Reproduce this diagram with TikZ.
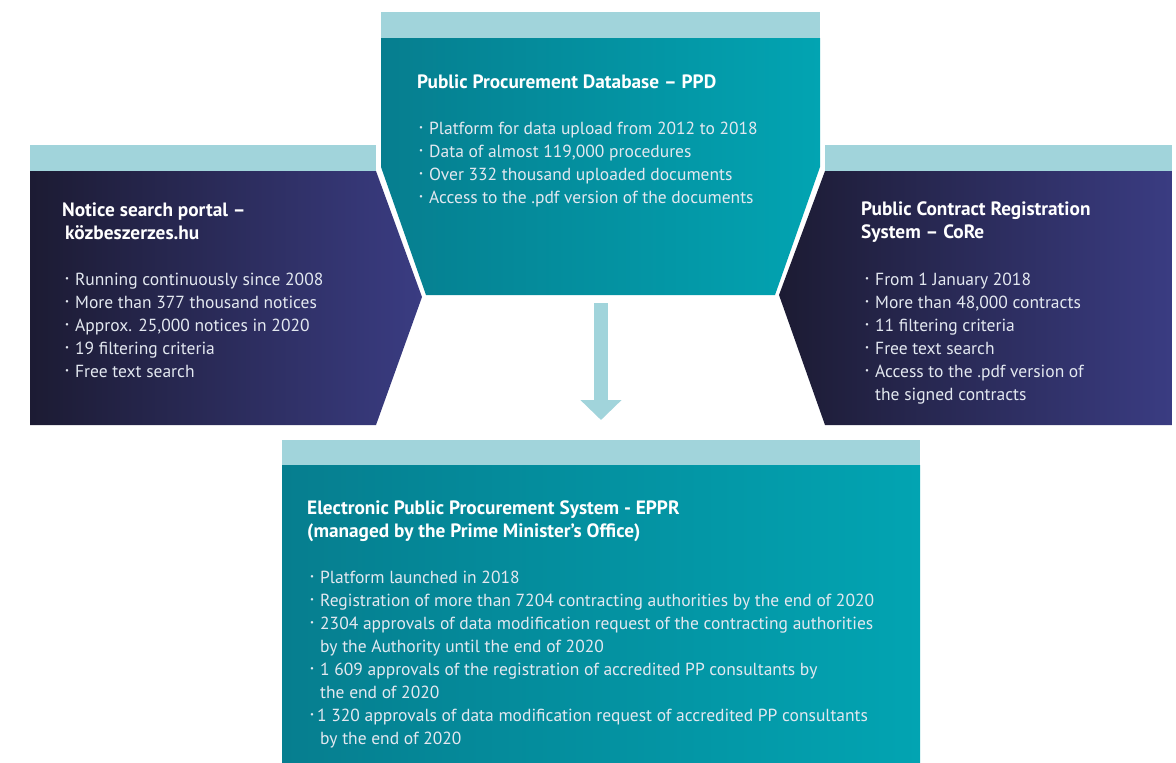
\documentclass[tikz,border=0pt]{standalone}
\usepackage{fontspec}
\setmainfont{PT Sans}
\usetikzlibrary{arrows.meta}
\definecolor{strip}{HTML}{A1D4DB}
\definecolor{tealL}{HTML}{067E8F}
\definecolor{tealR}{HTML}{02A4B2}
\definecolor{navyL}{HTML}{1C1B33}
\definecolor{navyR}{HTML}{3A3C82}
\definecolor{bodytxt}{HTML}{E3E8F0}
\newcommand\bul{\makebox[10pt][l]{\raisebox{0.35ex}{\scalebox{0.5}{\textbullet}}}}
\newcommand\bulc{\makebox[7pt][l]{\raisebox{0.35ex}{\scalebox{0.5}{\textbullet}}}}
\newcommand\ind{\hspace*{10pt}}
\tikzset{
  ttl/.style={anchor=base west, align=left, font=\bfseries\fontsize{19.3}{23}\selectfont, text=white, inner sep=0pt},
  body/.style={anchor=base west, align=left, font=\fontsize{17.5}{23}\selectfont, text=bodytxt, inner sep=0pt},
  stripfill/.style={fill=strip},
}
\begin{document}
\begin{tikzpicture}[x=1pt,y=-1pt]
\useasboundingbox (0,0) rectangle (1176,763);
% left shape
\fill[stripfill] (30,145) rectangle (376,171);
\shade[left color=navyL, right color=navyR] (30,171) -- (376,171) -- (422,297) -- (376,425) -- (30,425) -- cycle;
% right shape
\fill[stripfill] (825,145) rectangle (1172,171);
\shade[left color=navyL, right color=navyR] (825,171) -- (1172,171) -- (1172,425) -- (825,425) -- (779,295) -- cycle;
% center shape
\fill[stripfill] (381,12) rectangle (820,38);
\shade[left color=tealL, right color=tealR] (381,38) -- (820,38) -- (820,167) -- (775,295) -- (426,295) -- (381,167) -- cycle;
% bottom box
\fill[stripfill] (282,440) rectangle (920,465);
\shade[left color=tealL, right color=tealR] (282,465) rectangle (920,763);
% arrow
\coordinate (arrS) at (601,303);
\coordinate (arrE) at (601,420);
\draw[strip, line width=14pt, -{Triangle[width=40pt,length=20pt]}] (arrS) -- (arrE);

% texts (base anchor = baseline of the last line)
\node[ttl] (ppdT) at (417,88) {Public Procurement Database – PPD};
\node[body] (ppdB) at (419,203) {\bul Platform for data upload from 2012 to 2018\\
\bul Data of almost 119,000 procedures\\
\bul Over 332 thousand uploaded documents\\
\bul Access to the .pdf version of the documents};

\node[ttl] (nspT) at (62,239) {Notice search portal –\\ \hspace*{3pt}közbeszerzes.hu};
\node[body] (nspB) at (65,377) {\bul Running continuously since 2008\\
\bul More than 377 thousand notices\\
\bul Approx. 25,000 notices in 2020\\
\bul 19 filtering criteria\\
\bul Free text search};

\node[ttl] (coreT) at (861,238) {Public Contract Registration\\ System – CoRe};
\node[body] (coreB) at (865,400) {\bul From 1 January 2018\\
\bul More than 48,000 contracts\\
\bul 11 filtering criteria\\
\bul Free text search\\
\bul Access to the .pdf version of\\
\ind the signed contracts};

\node[ttl] (epprT) at (307,537) {Electronic Public Procurement System - EPPR\\ (managed by the Prime Minister’s Office)};
\node[body] (epprB) at (310,744) {\bul Platform launched in 2018\\
\bul Registration of more than 7204 contracting authorities by the end of 2020\\
\bul 2304 approvals of data modification request of the contracting authorities\\
\ind by the Authority until the end of 2020\\
\bul 1 609 approvals of the registration of accredited PP consultants by\\
\ind the end of 2020\\
\bulc 1 320 approvals of data modification request of accredited PP consultants\\
\ind by the end of 2020};
\end{tikzpicture}
\end{document}
